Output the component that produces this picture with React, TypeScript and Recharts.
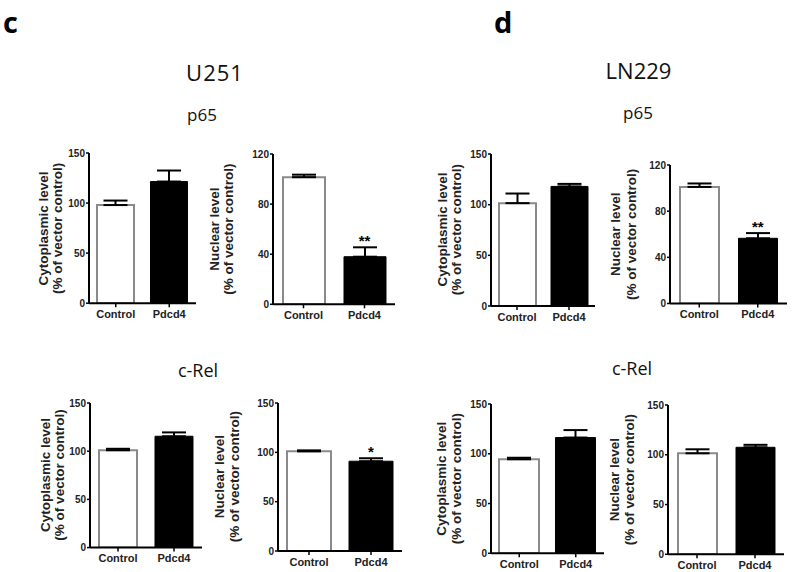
import React from 'react';
import { BarChart, Bar, XAxis, YAxis, Cell, ErrorBar, ReferenceDot } from 'recharts';

// ---------- data ----------
const categories = ['Control', 'Pdcd4'];

// U251 p65
const u251P65CytoMean = [98, 121.5];
const u251P65CytoSem = [4.5, 11];
const u251P65CytoSig = ['', ''];
const u251P65NucMean = [101.5, 38];
const u251P65NucSem = [2, 7.5];
const u251P65NucSig = ['', '**'];

// LN229 p65
const ln229P65CytoMean = [101.5, 118];
const ln229P65CytoSem = [9.5, 2.5];
const ln229P65CytoSig = ['', ''];
const ln229P65NucMean = [101, 56.5];
const ln229P65NucSem = [3, 4.5];
const ln229P65NucSig = ['', '**'];

// U251 c-Rel
const u251RelCytoMean = [101, 115.5];
const u251RelCytoSem = [1.5, 4];
const u251RelCytoSig = ['', ''];
const u251RelNucMean = [101, 91];
const u251RelNucSem = [1, 3];
const u251RelNucSig = ['', '*'];

// LN229 c-Rel
const ln229RelCytoMean = [94.5, 116.3];
const ln229RelCytoSem = [1.5, 7.5];
const ln229RelCytoSig = ['', ''];
const ln229RelNucMean = [101.5, 107.5];
const ln229RelNucSem = [4, 2.5];
const ln229RelNucSig = ['', ''];

const ticks150 = [0, 50, 100, 150];
const ticks120 = [0, 40, 80, 120];

const cytoLabel = 'Cytoplasmic level';
const nucLabel = 'Nuclear level';
const unitLabel = '(% of vector control)';

const panelLetters = ['c', 'd'];
const cellLines = ['U251', 'LN229'];
const proteins = ['p65', 'c-Rel'];

// ---------- layout ----------
const panels = [
  { means: u251P65CytoMean, sems: u251P65CytoSem, sig: u251P65CytoSig, ticks: ticks150, label: cytoLabel, axisX: 89, axisEnd: 196, yTop: 153.3, yZero: 303.5, barSize: 37, l1: 44, l2: 58 },
  { means: u251P65NucMean, sems: u251P65NucSem, sig: u251P65NucSig, ticks: ticks120, label: nucLabel, axisX: 273, axisEnd: 395, yTop: 154, yZero: 304.3, barSize: 42, l1: 215, l2: 229 },
  { means: ln229P65CytoMean, sems: ln229P65CytoSem, sig: ln229P65CytoSig, ticks: ticks150, label: cytoLabel, axisX: 491, axisEnd: 595, yTop: 153.5, yZero: 305.5, barSize: 37, l1: 442, l2: 456 },
  { means: ln229P65NucMean, sems: ln229P65NucSem, sig: ln229P65NucSig, ticks: ticks120, label: nucLabel, axisX: 670, axisEnd: 787, yTop: 165, yZero: 303.5, barSize: 39, l1: 615, l2: 631 },
  { means: u251RelCytoMean, sems: u251RelCytoSem, sig: u251RelCytoSig, ticks: ticks150, label: cytoLabel, axisX: 90, axisEnd: 202, yTop: 402.7, yZero: 547.3, barSize: 38, l1: 45, l2: 59 },
  { means: u251RelNucMean, sems: u251RelNucSem, sig: u251RelNucSig, ticks: ticks150, label: nucLabel, axisX: 278, axisEnd: 402, yTop: 402.7, yZero: 550.7, barSize: 44, l1: 220, l2: 235 },
  { means: ln229RelCytoMean, sems: ln229RelCytoSem, sig: ln229RelCytoSig, ticks: ticks150, label: cytoLabel, axisX: 491, axisEnd: 604, yTop: 404, yZero: 553.3, barSize: 40, l1: 442, l2: 457 },
  { means: ln229RelNucMean, sems: ln229RelNucSem, sig: ln229RelNucSig, ticks: ticks150, label: nucLabel, axisX: 668, axisEnd: 784, yTop: 405, yZero: 554.3, barSize: 39, l1: 615, l2: 630 },
];

const FONT = '"Liberation Sans", Arial, sans-serif';
const TITLE_FONT = '"Open Sans", "Noto Sans", sans-serif';
const YW = 60;
const MT = 10;
const XH = 30;

function Panel(p: any) {
  const width = p.axisEnd - p.axisX + YW + 2;
  const height = p.yZero - p.yTop + MT + XH;
  const max = p.ticks[p.ticks.length - 1];
  const data = categories.map((c, i) => ({ name: c, value: p.means[i], err: [0, p.sems[i]] }));
  return (
    <div style={{ position: 'absolute', left: p.axisX - YW, top: p.yTop - MT }}>
      <BarChart width={width} height={height} data={data} margin={{ top: MT, right: 2, left: 0, bottom: 0 }} barCategoryGap={0} style={{ overflow: 'visible' }}>
        <XAxis
          dataKey="name"
          height={XH}
          interval={0}
          axisLine={{ stroke: '#000', strokeWidth: 2 }}
          tickLine={{ stroke: '#000', strokeWidth: 1.5 }}
          tickSize={4}
          tickMargin={3}
          tick={{ fontSize: 11, fontWeight: 'bold', fill: '#222', fontFamily: FONT }}
        />
        <YAxis
          width={YW}
          type="number"
          domain={[0, max]}
          ticks={p.ticks}
          allowDataOverflow
          axisLine={{ stroke: '#000', strokeWidth: 2 }}
          tickLine={{ stroke: '#000', strokeWidth: 1.5 }}
          tickSize={3}
          tickMargin={1}
          tick={{ fontSize: 10, fontWeight: 'bold', fill: '#222', fontFamily: FONT }}
        />
        <Bar dataKey="value" barSize={p.barSize} isAnimationActive={false}>
          {data.map((d, i) => (
            <Cell key={d.name} fill={i === 0 ? '#fff' : '#000'} stroke={i === 0 ? '#8a8a8a' : '#000'} strokeWidth={i === 0 ? 2 : 1} />
          ))}
          <ErrorBar dataKey="err" width={12} stroke="#000" strokeWidth={2} direction="y" isAnimationActive={false} />
        </Bar>
        {categories.map((c, i) =>
          p.sig[i] ? (
            <ReferenceDot
              key={c}
              x={c}
              y={p.means[i] + p.sems[i]}
              r={0}
              stroke="none"
              fill="none"
              label={{ value: p.sig[i], position: 'top', offset: 1, fontSize: 15, fontWeight: 'bold', fill: '#000', fontFamily: FONT }}
            />
          ) : null
        )}
      </BarChart>
    </div>
  );
}

export default function App() {
  return (
    <div style={{ position: 'absolute', left: 0, top: 0, width: 793, height: 572, background: '#fff', overflow: 'hidden' }}>
      <svg width={793} height={572} style={{ position: 'absolute', left: 0, top: 0 }}>
        <text x={3} y={33} fontSize={29} fontWeight="bold" fontFamily={TITLE_FONT} fill="#000">{panelLetters[0]}</text>
        <text x={494} y={33} fontSize={29} fontWeight="bold" fontFamily={TITLE_FONT} fill="#000">{panelLetters[1]}</text>
        <text x={215} y={81} fontSize={22} letterSpacing={1} textAnchor="middle" fontFamily={TITLE_FONT} fill="#111">{cellLines[0]}</text>
        <text x={638.5} y={78.5} fontSize={22} textAnchor="middle" fontFamily={TITLE_FONT} fill="#111">{cellLines[1]}</text>
        <text x={202} y={121} fontSize={17} textAnchor="middle" fontFamily={TITLE_FONT} fill="#111">{proteins[0]}</text>
        <text x={638} y={119} fontSize={17} textAnchor="middle" fontFamily={TITLE_FONT} fill="#111">{proteins[0]}</text>
        <text x={198} y={377} fontSize={18} textAnchor="middle" fontFamily={TITLE_FONT} fill="#111">{proteins[1]}</text>
        <text x={632} y={375} fontSize={18} textAnchor="middle" fontFamily={TITLE_FONT} fill="#111">{proteins[1]}</text>
        {panels.map((p, i) => {
          const cy = (p.yTop + p.yZero) / 2;
          return (
            <g key={i} fontFamily={FONT} fontWeight="bold" fontSize={13.5} fill="#222">
              <text x={p.l1} y={cy} transform={`rotate(-90, ${p.l1}, ${cy})`} textAnchor="middle" dominantBaseline="central">{p.label}</text>
              <text x={p.l2} y={cy} transform={`rotate(-90, ${p.l2}, ${cy})`} textAnchor="middle" dominantBaseline="central">{unitLabel}</text>
            </g>
          );
        })}
      </svg>
      {panels.map((p, i) => (
        <Panel key={i} {...p} />
      ))}
    </div>
  );
}
